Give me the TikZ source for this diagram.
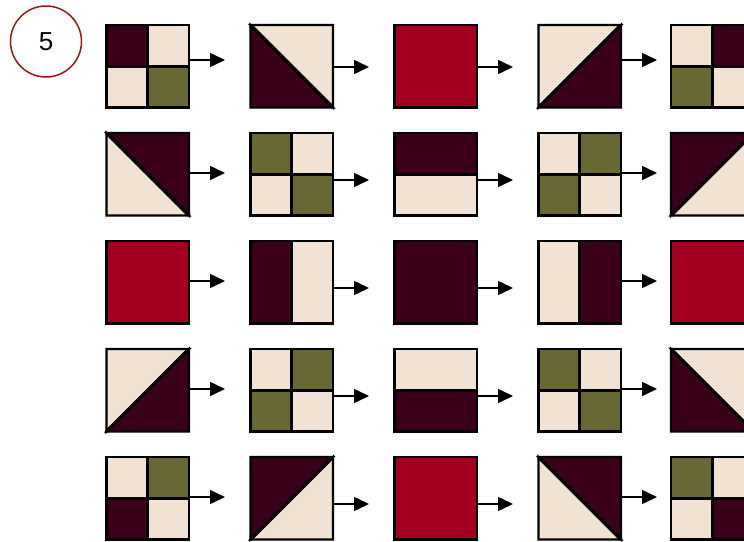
\documentclass[tikz,border=0pt]{standalone}
\usepackage{fontspec}
\setmainfont{Liberation Sans}
\usetikzlibrary{arrows.meta}
\definecolor{plum}{HTML}{3A001A}
\definecolor{cream}{HTML}{F2E2D4}
\definecolor{olive}{HTML}{676833}
\definecolor{quiltred}{HTML}{A30021}
\definecolor{circred}{HTML}{A31515}
\tikzset{
  piece/.style={draw=black, line width=2.2pt, line join=miter},
  arr/.style={draw=black, line width=1.5pt, -{Triangle[length=15pt,width=14pt]}},
}
\newcommand\fourpatch[6]{%
  \begin{scope}[shift={(#1,#2)}]
    \filldraw[piece,fill=#3] (0,0) rectangle (41.25,41.25);
    \filldraw[piece,fill=#4] (41.25,0) rectangle (82.5,41.25);
    \filldraw[piece,fill=#5] (0,41.25) rectangle (41.25,82.5);
    \filldraw[piece,fill=#6] (41.25,41.25) rectangle (82.5,82.5);
    \draw[line width=2.8pt] (41.25,0) -- (41.25,82.5) (0,41.25) -- (82.5,41.25);
  \end{scope}}
\newcommand\hstD[4]{% diagonal from top-left to bottom-right: lower-left, upper-right
  \begin{scope}[shift={(#1,#2)}]
    \filldraw[piece,fill=#3] (0,0) -- (0,82.5) -- (82.5,82.5) -- cycle;
    \filldraw[piece,fill=#4] (0,0) -- (82.5,0) -- (82.5,82.5) -- cycle;
    \draw[line width=3.4pt] (0,0) -- (82.5,82.5);
  \end{scope}}
\newcommand\hstA[4]{% diagonal from bottom-left to top-right: upper-left, lower-right
  \begin{scope}[shift={(#1,#2)}]
    \filldraw[piece,fill=#3] (0,0) -- (82.5,0) -- (0,82.5) -- cycle;
    \filldraw[piece,fill=#4] (82.5,0) -- (82.5,82.5) -- (0,82.5) -- cycle;
    \draw[line width=3.4pt] (0,82.5) -- (82.5,0);
  \end{scope}}
\newcommand\halvesH[4]{% top, bottom
  \begin{scope}[shift={(#1,#2)}]
    \filldraw[piece,fill=#3] (0,0) rectangle (82.5,41.25);
    \filldraw[piece,fill=#4] (0,41.25) rectangle (82.5,82.5);
    \draw[line width=2.8pt] (0,41.25) -- (82.5,41.25);
  \end{scope}}
\newcommand\halvesV[4]{% left, right
  \begin{scope}[shift={(#1,#2)}]
    \filldraw[piece,fill=#3] (0,0) rectangle (41.25,82.5);
    \filldraw[piece,fill=#4] (41.25,0) rectangle (82.5,82.5);
    \draw[line width=2.8pt] (41.25,0) -- (41.25,82.5);
  \end{scope}}
\newcommand\solidsq[3]{%
  \begin{scope}[shift={(#1,#2)}]
    \filldraw[piece,fill=#3] (0,0) rectangle (82.5,82.5);
  \end{scope}}
\newcommand\arrowat[4]{% name, row-y, x-start, x-end
  \coordinate (#1s) at (#3,#2);
  \coordinate (#1e) at (#4,#2);
  \draw[arr] (#1s) -- (#1e);}
\begin{document}
\begin{tikzpicture}[x=1pt,y=-1pt]
\clip (0,0) rectangle (744,541);
\fill[white] (0,0) rectangle (744,541);
% number circle
\node[circle, draw=circred, line width=1.5pt, minimum size=71pt, inner sep=0pt,
      font=\fontsize{26}{30}\selectfont] (num) at (46,41.5) {5};
% row 1
\fourpatch{106.5}{25}{plum}{cream}{cream}{olive}
\hstD{250.5}{25}{plum}{cream}
\solidsq{394.5}{25}{quiltred}
\hstA{538.5}{25}{cream}{plum}
\fourpatch{671}{25}{cream}{plum}{olive}{cream}
% row 2
\hstD{106.5}{133}{cream}{plum}
\fourpatch{250.5}{133}{olive}{cream}{cream}{olive}
\halvesH{394.5}{133}{plum}{cream}
\fourpatch{538.5}{133}{cream}{olive}{olive}{cream}
\hstA{671}{133}{plum}{cream}
% row 3
\solidsq{106.5}{241}{quiltred}
\halvesV{250.5}{241}{plum}{cream}
\solidsq{394.5}{241}{plum}
\halvesV{538.5}{241}{cream}{plum}
\solidsq{671}{241}{quiltred}
% row 4
\hstA{106.5}{349}{cream}{plum}
\fourpatch{250.5}{349}{cream}{olive}{olive}{cream}
\halvesH{394.5}{349}{cream}{plum}
\fourpatch{538.5}{349}{olive}{cream}{cream}{olive}
\hstD{671}{349}{plum}{cream}
% row 5
\fourpatch{106.5}{457}{cream}{olive}{plum}{cream}
\hstA{250.5}{457}{plum}{cream}
\solidsq{394.5}{457}{quiltred}
\hstD{538.5}{457}{cream}{plum}
\fourpatch{671}{457}{olive}{cream}{cream}{plum}
% arrows
\arrowat{a11}{60}{190}{225}
\arrowat{a12}{67}{334}{369}
\arrowat{a13}{67}{478}{513}
\arrowat{a14}{60}{622}{657}
\arrowat{a21}{173}{190}{225}
\arrowat{a22}{180}{334}{369}
\arrowat{a23}{180}{478}{513}
\arrowat{a24}{173}{622}{657}
\arrowat{a31}{281}{190}{225}
\arrowat{a32}{288}{334}{369}
\arrowat{a33}{288}{478}{513}
\arrowat{a34}{281}{622}{657}
\arrowat{a41}{389}{190}{225}
\arrowat{a42}{396}{334}{369}
\arrowat{a43}{396}{478}{513}
\arrowat{a44}{389}{622}{657}
\arrowat{a51}{497}{190}{225}
\arrowat{a52}{504}{334}{369}
\arrowat{a53}{504}{478}{513}
\arrowat{a54}{497}{622}{657}
\end{tikzpicture}
\end{document}
